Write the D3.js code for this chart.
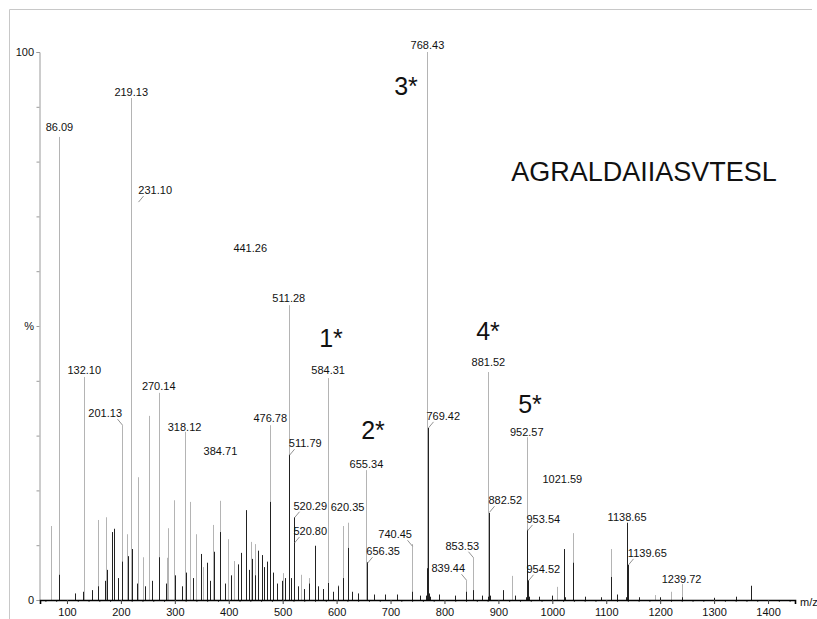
<!DOCTYPE html>
<html>
<head>
<meta charset="utf-8">
<script src="https://cdn.jsdelivr.net/npm/d3@7/dist/d3.min.js"></script>
<style>
  html, body { margin: 0; padding: 0; background: #fff; }
  svg { display: block; font-family: "Liberation Sans", Arial, sans-serif; }
</style>
</head>
<body>
<svg id="chart" width="817" height="619"></svg>
<script>
// ---- data ----
const mzTicks = [100, 200, 300, 400, 500, 600, 700, 800, 900, 1000, 1100, 1200, 1300, 1400];
const yTickLabels = [["100", 100], ["%", 50], ["0", 0]];

// light (grey) trace: [m/z, relative intensity %]
const lightPeaks = [
  [70.7, 13.5], [86.09, 84.5], [132.10, 40.7], [157.3, 14.6], [172.7, 15.1], [201.13, 31.9],
  [212, 12.0], [219.13, 91.6], [231.10, 22.4], [240.8, 7.8], [253, 33.6], [270.14, 37.8],
  [285, 7.7], [288, 13.1], [299.4, 18.2], [318.12, 30.7], [328.5, 17.9], [339.7, 12.0],
  [353, 6.0], [370.6, 13.7], [384.2, 18.1], [398.4, 11.1], [410, 7.1], [441.26, 10.6],
  [449, 10.2], [476.78, 31.9], [501.5, 4.9], [511.28, 53.8], [533.9, 4.6], [548, 4.0],
  [584.31, 40.5], [601.8, 2.7], [611.1, 13.5], [620.35, 14.1], [655.34, 23.7], [740.45, 10.2],
  [768.43, 100], [839.44, 3.6], [853.53, 7.7], [881.52, 41.6], [925.3, 4.4], [952.57, 29.7],
  [1008.7, 2.4], [1038.4, 12.2], [1109.4, 9.3], [1190, 0.9], [1220, 1.5], [1239.72, 2.9]
];

// dark (black) trace
const darkPeaks = [
  [86.09, 4.6], [115, 1.2], [130, 1.5], [147, 1.8], [158, 2.5], [170, 3.5], [175, 5.5],
  [183.3, 12.4], [187.5, 13.0], [195, 4.0], [201.13, 7.0], [212.5, 8.0], [220.4, 9.3],
  [229, 3.0], [244, 2.5], [258, 3.5], [271, 7.8], [283, 3.0], [300, 4.5], [313, 2.5],
  [321, 5.0], [333, 4.0], [348.4, 8.4], [359.5, 6.8], [366, 3.5], [372, 8.8], [384.7, 12.4],
  [393, 3.0], [405, 4.5], [417, 6.5], [423, 8.6], [431.8, 16.4], [437, 5.5], [444, 7.5],
  [449.5, 4.5], [455, 9.0], [461.5, 8.2], [466, 6.0], [470, 7.0], [476.78, 17.9], [482, 5.0],
  [490, 3.0], [498, 3.5], [505, 4.0], [511.79, 26.5], [516, 4.0], [520.29, 15.1], [520.80, 10.6],
  [528, 2.5], [540, 2.0], [549, 3.0], [560.4, 9.9], [566, 2.5], [575, 2.0], [584.31, 3.1],
  [593, 1.5], [603, 2.5], [611.1, 4.0], [620.35, 9.5], [628, 1.5], [640, 1.2], [656.35, 6.9],
  [670, 1.0], [690, 1.0], [712, 1.0], [740.45, 1.5], [755, 0.8], [766, 0.8], [768.43, 5.8],
  [769.42, 31.4], [771, 1.2], [773, 0.6], [790, 1.0], [820, 0.8], [839.44, 1.5], [853.53, 1.8],
  [870, 0.8], [880, 0.6], [882.52, 15.9], [884, 0.8], [908.5, 1.8], [930, 0.8], [951, 0.5],
  [953.54, 12.8], [954.52, 3.6], [956, 0.6], [975, 0.6], [1000, 0.8], [1021.59, 9.3], [1023, 0.5],
  [1038.4, 6.8], [1060, 0.6], [1090, 0.5], [1109.4, 4.2], [1120, 1.0], [1137, 0.5], [1138.65, 14.1],
  [1139.65, 6.4], [1141, 0.5], [1160, 0.5], [1200, 0.5], [1240, 0.5], [1300, 0.4], [1340.8, 0.6],
  [1368.6, 2.6]
];

// peak labels: [text, peak m/z, label m/z, label intensity]
const peakLabels = [
  ["86.09", 86.09, 86.09, 86.3], ["132.10", 132.10, 132.10, 42.0], ["201.13", 201.13, 170.9, 34.1],
  ["219.13", 219.13, 219.13, 92.7], ["231.10", 231.10, 263.6, 74.8], ["270.14", 270.14, 270.14, 39.1],
  ["318.12", 318.12, 318.12, 31.6], ["384.71", 384.71, 384.6, 27.2], ["441.26", 441.26, 439.8, 64.2],
  ["476.78", 476.78, 476.9, 33.2], ["511.28", 511.28, 511.28, 55.1], ["511.79", 511.79, 541.8, 28.6],
  ["520.29", 520.29, 551.1, 17.2], ["520.80", 520.80, 551.1, 12.6], ["584.31", 584.31, 584.31, 42.0],
  ["620.35", 620.35, 620.35, 17.0], ["655.34", 655.34, 655.34, 24.8], ["656.35", 656.35, 686.3, 8.9],
  ["740.45", 740.45, 708.6, 12.0], ["768.43", 768.43, 768.43, 101.3], ["769.42", 769.42, 797.8, 33.6],
  ["839.44", 839.44, 807.1, 5.8], ["853.53", 853.53, 833.1, 9.9], ["881.52", 881.52, 881.52, 43.4],
  ["882.52", 882.52, 912.8, 18.2], ["952.57", 952.57, 952.57, 30.7], ["953.54", 953.54, 983.3, 14.8],
  ["954.52", 954.52, 983.3, 5.7], ["1021.59", 1021.59, 1018.6, 22.1], ["1138.65", 1138.65, 1138.65, 15.1],
  ["1139.65", 1139.65, 1176.2, 8.6], ["1239.72", 1239.72, 1239.72, 3.8]
];

// large annotations: [text, m/z, intensity]
const fragmentNotes = [["1*", 589.6, 47.8], ["2*", 667.5, 31.0], ["3*", 728.7, 93.8], ["4*", 880.7, 49.1], ["5*", 958.6, 35.8]];
const peptideNote = ["AGRALDAIIASVTESL", 1170, 78.1];

// ---- drawing ----
const svg = d3.select("#chart");
const x = d3.scaleLinear().domain([50, 1450]).range([40, 795]);
const y = d3.scaleLinear().domain([0, 100]).range([600, 52]);

// frame
svg.append("line").attr("x1", 9.5).attr("x2", 812).attr("y1", 9.5).attr("y2", 9.5).attr("stroke", "#c8c8c8");
svg.append("line").attr("x1", 9.5).attr("x2", 9.5).attr("y1", 9.5).attr("y2", 619).attr("stroke", "#c8c8c8");

// y axis
const yAxis = d3.axisLeft(y).tickValues(d3.range(0, 101, 10)).tickSize(3).tickFormat("");
const gy = svg.append("g").attr("transform", "translate(39.5,0)").call(yAxis);
gy.select(".domain").attr("stroke", "#9a9a9a");
gy.selectAll(".tick line").attr("stroke", "#9a9a9a");
svg.selectAll(".ylab").data(yTickLabels).join("text")
  .attr("x", 34).attr("y", d => y(d[1])).attr("text-anchor", "end").attr("dominant-baseline", "central")
  .attr("font-size", 11).attr("fill", "#111").text(d => d[0]);

// peaks
svg.append("g").selectAll("line").data(lightPeaks).join("line")
  .attr("x1", d => Math.round(x(d[0])) + 0.5).attr("x2", d => Math.round(x(d[0])) + 0.5)
  .attr("y1", y(0)).attr("y2", d => y(d[1])).attr("stroke", "#b4b4b4").attr("stroke-width", 1);
svg.append("g").selectAll("line").data(darkPeaks).join("line")
  .attr("x1", d => Math.round(x(d[0])) + 0.5).attr("x2", d => Math.round(x(d[0])) + 0.5)
  .attr("y1", y(0)).attr("y2", d => y(d[1])).attr("stroke", "#222").attr("stroke-width", 1);

// x axis
const minor = d3.range(60, 1450, 20).filter(v => v % 100 !== 0);
const gxm = svg.append("g").attr("transform", "translate(0,600)")
  .call(d3.axisBottom(x).tickValues(minor).tickSize(2).tickFormat(""));
gxm.select(".domain").remove();
gxm.selectAll(".tick line").attr("stroke", "#555");
const gx = svg.append("g").attr("transform", "translate(0,600)")
  .call(d3.axisBottom(x).tickValues(mzTicks).tickSize(4).tickPadding(4).tickFormat(d3.format("d")));
gx.select(".domain").attr("stroke", "#000").attr("stroke-width", 1.6);
gx.selectAll(".tick line").attr("stroke", "#444");
gx.selectAll(".tick text").attr("font-size", 11).attr("fill", "#111").attr("font-family", "Liberation Sans, Arial, sans-serif");
svg.append("text").attr("x", 800).attr("y", 602).attr("dominant-baseline", "central")
  .attr("font-size", 11).attr("fill", "#111").text("m/z");

// peak labels + leaders
const lab = svg.append("g");
peakLabels.forEach(([t, pm, lm, li]) => {
  const px = Math.round(x(pm)) + 0.5, lx = x(lm), ly = y(li);
  lab.append("text").attr("x", lx).attr("y", ly).attr("text-anchor", "middle")
    .attr("dominant-baseline", "central").attr("font-size", 11).attr("fill", "#111").text(t);
  const dx = lx - px;
  if (Math.abs(dx) > 6) {
    const s = Math.sign(dx);
    lab.append("line").attr("x1", px).attr("y1", ly + 12).attr("x2", px + s * 5).attr("y2", ly + 6)
      .attr("stroke", "#777").attr("stroke-width", 0.8);
  }
});

// big annotations
svg.append("g").selectAll("text").data(fragmentNotes).join("text")
  .attr("x", d => x(d[1])).attr("y", d => y(d[2])).attr("text-anchor", "middle").attr("dominant-baseline", "central")
  .attr("font-size", 25).attr("fill", "#111").text(d => d[0]);
svg.append("text").attr("x", x(peptideNote[1])).attr("y", y(peptideNote[2]))
  .attr("text-anchor", "middle").attr("dominant-baseline", "central")
  .attr("font-size", 27).attr("fill", "#111").text(peptideNote[0]);
</script>
</body>
</html>
